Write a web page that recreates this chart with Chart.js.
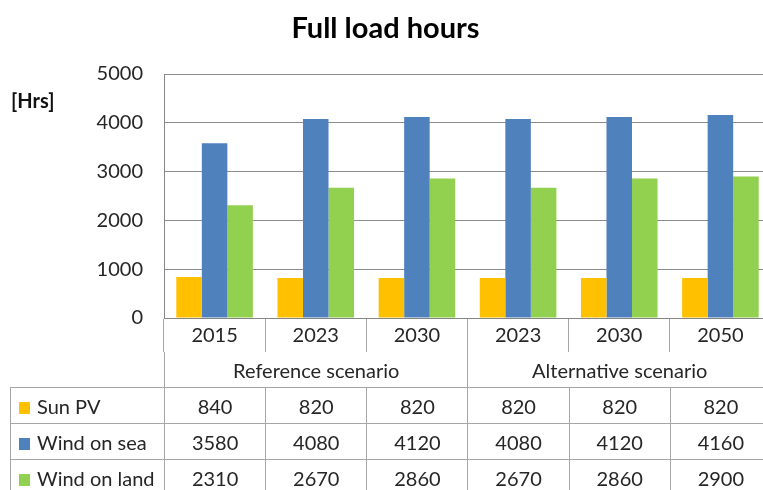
<!DOCTYPE html>
<html>
<head>
<meta charset="utf-8">
<script src="https://cdn.jsdelivr.net/npm/chart.js@4.4.1/dist/chart.umd.min.js"></script>
<style>
  body { margin: 0; background: #fff; }
  #wrap { position: relative; width: 763px; height: 490px; overflow: hidden; font-family: Lato, sans-serif; color: #262626; }
  #c { position: absolute; left: 0; top: 0; }
  #hrs { position: absolute; left: 11px; top: 88px; font-weight: bold; font-size: 20px; color: #111; }
  #tbl { position: absolute; left: 10px; top: 352px; border-collapse: collapse; table-layout: fixed; font-size: 20px; }
  #tbl td { height: 35px; padding: 0; border: 1px solid #a6a6a6; text-align: center; white-space: nowrap; }
  #tbl tr.scen td { border-top: none; }
  #tbl tr.scen td.blank { border-left: none; }
  #tbl td.name { text-align: left; padding-left: 8px; }
  .key { display: inline-block; width: 11px; height: 12px; margin-right: 7px; }
</style>
</head>
<body>
<div id="wrap">
  <canvas id="c" width="771" height="490"></canvas>
  <div id="hrs">[Hrs]</div>
  <table id="tbl"></table>
</div>
<script>
const years = ['2015', '2023', '2030', '2023', '2030', '2050'];
const scenarios = ['Reference scenario', 'Alternative scenario'];
const scenarioSpans = [3, 3];
const seriesNames = ['Sun PV', 'Wind on sea', 'Wind on land'];
const sunPV = [840, 820, 820, 820, 820, 820];
const windOnSea = [3580, 4080, 4120, 4080, 4120, 4160];
const windOnLand = [2310, 2670, 2860, 2670, 2860, 2900];
const seriesColors = ['#FFC000', '#4F81BD', '#92D050'];

const seriesValues = [sunPV, windOnSea, windOnLand];

const ctx = document.getElementById('c').getContext('2d');
const chart = new Chart(ctx, {
  type: 'bar',
  data: {
    labels: years,
    datasets: seriesNames.map((name, i) => ({
      label: name,
      data: seriesValues[i],
      backgroundColor: seriesColors[i],
      borderWidth: 0,
      categoryPercentage: 0.757,
      barPercentage: 1.0
    }))
  },
  options: {
    responsive: false,
    animation: false,
    layout: { padding: 0 },
    plugins: {
      legend: { display: false },
      tooltip: { enabled: false },
      title: {
        display: true,
        text: 'Full load hours',
        color: '#000',
        font: { family: 'Lato', size: 29, weight: 'bold', lineHeight: 1.2 },
        padding: { top: 11, bottom: 28.2 }
      }
    },
    scales: {
      x: {
        grid: {
          display: true,
          drawOnChartArea: false,
          drawTicks: true,
          tickLength: 34,
          offset: true,
          color: '#a6a6a6'
        },
        border: { display: true, color: '#868686' },
        ticks: {
          color: '#262626',
          font: { family: 'Lato', size: 20 },
          padding: -28,
          maxRotation: 0
        },
        afterFit: function (scale) { scale.height = 172; }
      },
      y: {
        min: 0,
        max: 5000,
        ticks: {
          stepSize: 1000,
          color: '#262626',
          font: { family: 'Lato', size: 20 },
          padding: 21,
          callback: function (value) { return String(value); }
        },
        grid: { color: '#8c8c8c', drawTicks: false },
        border: { display: true, color: '#868686' },
        afterFit: function (scale) { scale.width = 164; }
      }
    }
  }
});

// data table under the axis, columns follow the x scale
const area = chart.chartArea;
const colW = (area.right - area.left) / years.length;
const firstW = area.left - 10;
const tbl = document.getElementById('tbl');
tbl.style.width = (firstW + colW * years.length) + 'px';
let html = '<colgroup><col style="width:' + firstW + 'px">';
years.forEach(() => { html += '<col style="width:' + colW + 'px">'; });
html += '</colgroup>';
html += '<tr class="scen"><td class="blank"></td>';
scenarios.forEach((s, i) => { html += '<td colspan="' + scenarioSpans[i] + '">' + s + '</td>'; });
html += '</tr>';
seriesNames.forEach((name, i) => {
  html += '<tr><td class="name"><span class="key" style="background:' + seriesColors[i] + '"></span>' + name + '</td>';
  seriesValues[i].forEach(v => { html += '<td>' + v + '</td>'; });
  html += '</tr>';
});
tbl.innerHTML = html;
</script>
</body>
</html>
